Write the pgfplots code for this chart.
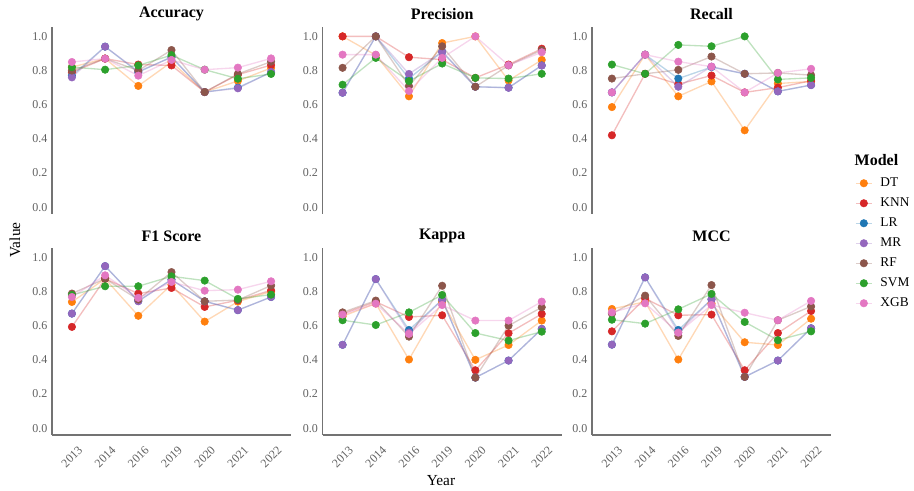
\documentclass[border=0pt]{standalone}
\usepackage{pgfplots}
\pgfplotsset{compat=1.18}
\usepackage{pgfplotstable}
\usepackage{fontspec}
\setmainfont{Liberation Serif}

\definecolor{cDT}{HTML}{FF7F0E}
\definecolor{cKNN}{HTML}{D62728}
\definecolor{cLR}{HTML}{1F77B4}
\definecolor{cMR}{HTML}{9467BD}
\definecolor{cRF}{HTML}{8C564B}
\definecolor{cSVM}{HTML}{2CA02C}
\definecolor{cXGB}{HTML}{E377C2}

\pgfplotstableread{
x DT KNN LR MR RF SVM XGB
0 0.82 0.79 0.77 0.76 0.80 0.82 0.85
1 0.87 0.87 0.94 0.94 0.87 0.805 0.87
2 0.71 0.835 0.79 0.795 0.80 0.83 0.77
3 0.85 0.83 0.88 0.877 0.92 0.89 0.862
4 0.674 0.674 0.674 0.674 0.674 0.805 0.805
5 0.739 0.776 0.70 0.696 0.78 0.752 0.817
6 0.815 0.832 0.79 0.791 0.852 0.78 0.871
}\tAcc
\pgfplotstableread{
x DT KNN LR MR RF SVM XGB
0 1.0 1.0 0.67 0.67 0.816 0.717 0.893
1 0.89 1.0 1.0 1.0 1.0 0.874 0.893
2 0.649 0.878 0.753 0.78 0.709 0.738 0.68
3 0.961 0.864 0.91 0.909 0.942 0.841 0.874
4 1.0 0.757 0.705 0.705 0.705 0.757 1.0
5 0.742 0.835 0.70 0.699 0.83 0.753 0.831
6 0.862 0.928 0.83 0.829 0.92 0.781 0.907
}\tPre
\pgfplotstableread{
x DT KNN LR MR RF SVM XGB
0 0.586 0.421 0.672 0.672 0.753 0.835 0.672
1 0.893 0.781 0.893 0.893 0.781 0.781 0.893
2 0.649 0.72 0.753 0.705 0.804 0.95 0.852
3 0.736 0.771 0.82 0.823 0.882 0.942 0.823
4 0.45 0.672 0.781 0.781 0.781 1.0 0.672
5 0.724 0.70 0.678 0.678 0.786 0.748 0.786
6 0.736 0.74 0.715 0.715 0.773 0.757 0.81
}\tRec
\pgfplotstableread{
x DT KNN LR MR RF SVM XGB
0 0.739 0.593 0.671 0.671 0.788 0.78 0.768
1 0.875 0.875 0.949 0.949 0.875 0.831 0.895
2 0.658 0.788 0.745 0.743 0.753 0.831 0.763
3 0.84 0.821 0.87 0.87 0.914 0.889 0.856
4 0.624 0.71 0.743 0.743 0.743 0.864 0.805
5 0.741 0.749 0.691 0.691 0.75 0.757 0.811
6 0.80 0.807 0.768 0.768 0.835 0.782 0.86
}\tFone
\pgfplotstableread{
x DT KNN LR MR RF SVM XGB
0 0.655 0.67 0.488 0.488 0.678 0.632 0.665
1 0.73 0.74 0.873 0.873 0.747 0.604 0.729
2 0.402 0.651 0.575 0.56 0.536 0.678 0.552
3 0.74 0.661 0.752 0.752 0.834 0.78 0.721
4 0.40 0.339 0.296 0.296 0.296 0.557 0.63
5 0.487 0.556 0.396 0.396 0.60 0.513 0.63
6 0.63 0.669 0.581 0.581 0.708 0.565 0.741
}\tKap
\pgfplotstableread{
x DT KNN LR MR RF SVM XGB
0 0.698 0.567 0.489 0.489 0.67 0.635 0.678
1 0.74 0.76 0.883 0.883 0.776 0.612 0.731
2 0.402 0.661 0.575 0.56 0.54 0.696 0.559
3 0.73 0.665 0.754 0.754 0.838 0.786 0.721
4 0.503 0.339 0.30 0.30 0.30 0.622 0.676
5 0.487 0.557 0.396 0.396 0.632 0.515 0.632
6 0.641 0.686 0.585 0.585 0.713 0.567 0.745
}\tMcc

\newcommand{\sline}[3]{\addplot[forget plot, no marks, draw=#3, draw opacity=0.3, line width=1pt] table[x=x,y=#2]{#1};}
\newcommand{\spts}[3]{\addplot[forget plot, only marks, mark=*, mark size=2.8pt, color=#3, mark options={draw=#3, fill=#3}] table[x=x,y=#2]{#1};}
\newcommand{\allseries}[1]{%
\sline{#1}{DT}{cDT}\sline{#1}{KNN}{cKNN}\sline{#1}{LR}{cLR}\sline{#1}{MR}{cMR}%
\sline{#1}{RF}{cRF}\sline{#1}{SVM}{cSVM}\sline{#1}{XGB}{cXGB}%
\spts{#1}{DT}{cDT}\spts{#1}{KNN}{cKNN}\spts{#1}{LR}{cLR}\spts{#1}{MR}{cMR}%
\spts{#1}{RF}{cRF}\spts{#1}{SVM}{cSVM}\spts{#1}{XGB}{cXGB}}
\newcommand{\ptitle}[2]{\node[font=\bfseries\fontsize{12}{14}\selectfont, anchor=center] at (rel axis cs:0.5,1) [yshift=#2] {#1};}

\pgfplotsset{
  panel/.style={scale only axis, width=179.25pt, height=140.25pt,
    xmin=-0.6, xmax=6.6, ymin=-0.04, ymax=1.055,
    ytick={0,0.2,0.4,0.6,0.8,1}, xtick={0,1,2,3,4,5,6},
    xticklabels={2013,2014,2016,2019,2020,2021,2022},
    axis y line*=left, axis x line*=bottom,
    axis line style={-, black!55, line width=0.9pt},
    major tick length=0pt,
    /pgf/number format/assume math mode=true,
    yticklabel style={font=\fontsize{9}{10}\selectfont, text=black!62,
      /pgf/number format/.cd, fixed, fixed zerofill, precision=1},
    xticklabel style={font=\fontsize{9}{10}\selectfont, text=black!62, rotate=45, anchor=north east, yshift=-5pt, xshift=1pt},
    clip=false},
  toprow/.style={panel, axis x line=none, xticklabels={}},
  mylegend/.style={legend image code/.code={\draw[#1, draw opacity=0.3, line width=1pt] (0pt,0pt) -- (12pt,0pt); \fill[#1] (6pt,0pt) circle (2.8pt);}}
}

\begin{document}
\begin{tikzpicture}
\useasboundingbox (0,0) rectangle (685.5pt,368.25pt);
\begin{axis}[toprow, at={(39pt,207.75pt)}, anchor=south west]
\allseries{\tAcc}
\ptitle{Accuracy}{9.75pt}
\end{axis}
\begin{axis}[toprow, at={(242pt,207.75pt)}, anchor=south west]
\allseries{\tPre}
\ptitle{Precision}{9.75pt}
\end{axis}
\begin{axis}[toprow, at={(444pt,207.75pt)}, anchor=south west,
  legend cell align=left,
  legend style={at={(1.100,0.205)}, anchor=north west, draw=none, fill=none,
    inner sep=0pt, row sep=4pt, font=\fontsize{10}{12}\selectfont,
    nodes={inner sep=1pt, text height=7pt, text depth=2pt},
    /tikz/every odd column/.append style={column sep=5pt}}]
\allseries{\tRec}
\ptitle{Recall}{9.75pt}
\addlegendimage{mylegend=cDT}\addlegendentry{DT}
\addlegendimage{mylegend=cKNN}\addlegendentry{KNN}
\addlegendimage{mylegend=cLR}\addlegendentry{LR}
\addlegendimage{mylegend=cMR}\addlegendentry{MR}
\addlegendimage{mylegend=cRF}\addlegendentry{RF}
\addlegendimage{mylegend=cSVM}\addlegendentry{SVM}
\addlegendimage{mylegend=cXGB}\addlegendentry{XGB}
\end{axis}
\begin{axis}[panel, at={(39pt,42pt)}, anchor=south west]
\allseries{\tFone}
\ptitle{F1 Score}{9pt}
\end{axis}
\begin{axis}[panel, at={(242pt,42pt)}, anchor=south west]
\allseries{\tKap}
\ptitle{Kappa}{9pt}
\end{axis}
\begin{axis}[panel, at={(444pt,42pt)}, anchor=south west]
\allseries{\tMcc}
\ptitle{MCC}{9pt}
\end{axis}
\node[anchor=west, font=\bfseries\fontsize{12}{14}\selectfont] at (637.5pt,248.25pt) {Model};
\node[rotate=90, font=\fontsize{11.5}{13}\selectfont] at (11.25pt,188.25pt) {Value};
\node[font=\fontsize{11.5}{13}\selectfont] at (330.75pt,7.5pt) {Year};
\end{tikzpicture}
\end{document}
